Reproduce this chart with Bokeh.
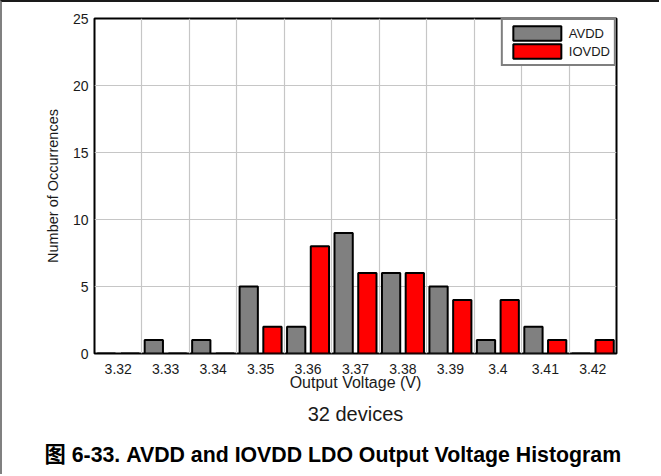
from bokeh.plotting import figure
from bokeh.models import (Range1d, FixedTicker, Legend, LegendItem, Title,
                          ColumnDataSource)
from bokeh.embed import file_html
from bokeh.resources import INLINE

# ---- data ----
voltages = ["3.32", "3.33", "3.34", "3.35", "3.36", "3.37",
            "3.38", "3.39", "3.4", "3.41", "3.42"]
avdd = [0, 1, 1, 5, 2, 9, 6, 5, 1, 2, 0]
iovdd = [0, 0, 0, 2, 8, 6, 6, 4, 4, 1, 1]
y_ticks = [0, 5, 10, 15, 20, 25]
series_names = ["AVDD", "IOVDD"]
series_colors = ["#808080", "#ff0000"]
subtitle = "32 devices"
caption = "图 6-33. AVDD and IOVDD LDO Output Voltage Histogram"

FONT = "Liberation Sans, Arial, Noto Sans CJK SC"

n = len(voltages)
idx = list(range(n))
src = ColumnDataSource(dict(
    x_a=[i - 0.25 for i in idx],
    x_i=[i + 0.25 for i in idx],
    avdd=avdd, iovdd=iovdd))

p = figure(width=659, height=474, output_backend="svg", toolbar_location=None,
           x_range=Range1d(-0.5, n - 0.5), y_range=Range1d(0, 25),
           min_border_left=92, min_border_right=45, min_border_top=16,
           min_border_bottom=123,
           styles={"border-top": "2px solid #1a1a1a",
                   "border-left": "2px solid #808080"})

p.background_fill_color = "white"
p.border_fill_color = "white"
p.outline_line_color = "black"
p.outline_line_width = 2

r_a = p.vbar(x="x_a", top="avdd", width=0.385, source=src,
             fill_color=series_colors[0], line_color="black", line_width=2)
r_i = p.vbar(x="x_i", top="iovdd", width=0.385, source=src,
             fill_color=series_colors[1], line_color="black", line_width=2)

# axes
p.xaxis.ticker = FixedTicker(ticks=idx)
p.xaxis.major_label_overrides = {i: v for i, v in zip(idx, voltages)}
p.yaxis.ticker = FixedTicker(ticks=y_ticks)
for ax in (p.xaxis[0], p.yaxis[0]):
    ax.axis_line_color = None
    ax.major_tick_line_color = None
    ax.minor_tick_line_color = None
    ax.major_tick_out = 0
    ax.major_tick_in = 0
    ax.major_label_text_font = FONT
    ax.major_label_text_font_size = "14px"
    ax.major_label_text_color = "#1a1a1a"
    ax.axis_label_text_font = FONT
    ax.axis_label_text_font_style = "normal"
    ax.axis_label_text_color = "#1a1a1a"

p.xaxis.axis_label = "Output Voltage (V)"
p.xaxis.axis_label_text_font_size = "16px"
p.xaxis.major_label_standoff = 10
p.xaxis.axis_label_standoff = -3
p.yaxis.axis_label = "Number of Occurrences"
p.yaxis.axis_label_text_font_size = "14.5px"
p.yaxis.major_label_standoff = 6
p.yaxis.axis_label_standoff = 9

# grids
p.xgrid.ticker = FixedTicker(ticks=[i + 0.5 for i in idx[:-1]])
p.ygrid.ticker = FixedTicker(ticks=y_ticks[1:-1])
for g in (p.xgrid[0], p.ygrid[0]):
    g.grid_line_color = "#c6c6c6"
    g.grid_line_width = 1.2

# legend
legend = Legend(items=[LegendItem(label=series_names[0], renderers=[r_a]),
                       LegendItem(label=series_names[1], renderers=[r_i])],
                location="top_right", margin=0, padding=4, spacing=0,
                glyph_width=60, glyph_height=18, label_height=18,
                label_standoff=2, label_text_font=FONT,
                label_text_font_size="13px", label_text_color="#1a1a1a",
                border_line_color="black", border_line_width=2,
                background_fill_alpha=1)
p.add_layout(legend)

# texts below the chart
p.add_layout(Title(text=subtitle, align="center", standoff=14,
                   text_font=FONT, text_font_size="20px",
                   text_font_style="normal", text_color="#1a1a1a"), "below")
p.add_layout(Title(text=caption, align="left", offset=-50, standoff=18,
                   text_font=FONT, text_font_size="21.3px",
                   text_font_style="bold", text_color="black"), "below")

open("out.html", "w").write(file_html(p, INLINE))
